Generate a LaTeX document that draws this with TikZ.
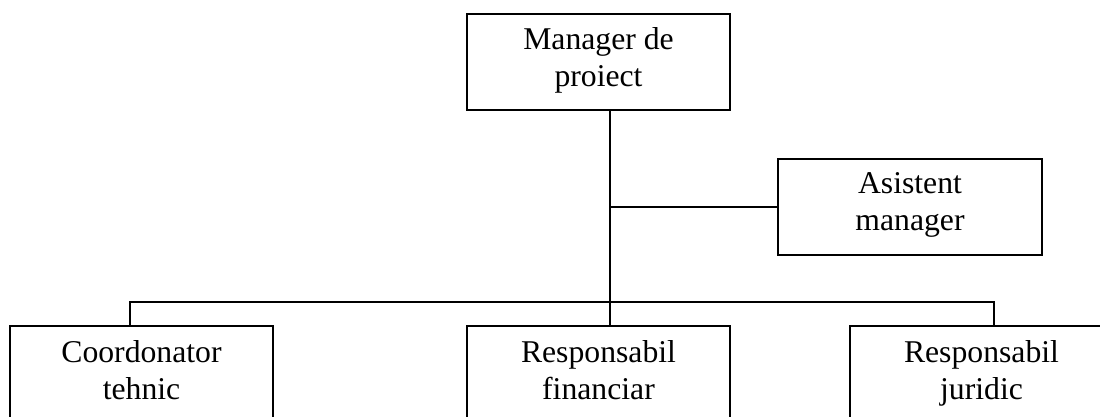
\documentclass[tikz,border=0pt]{standalone}
\usepackage{fontspec}
\setmainfont{Liberation Serif}
\usepackage{tikz}
\usetikzlibrary{positioning}

\begin{document}
\begin{tikzpicture}[x=1pt,y=-1pt,
        post/.style={draw,line width=2pt,minimum width=263pt,minimum height=96pt,
                     inner sep=0pt,align=center,font=\fontsize{31.7}{37}\selectfont,
                     execute at begin node={\rule{0pt}{32pt}},
                     execute at end node={\rule[-9pt]{0pt}{0pt}}},
        link/.style={line width=2pt}]
        \useasboundingbox (0,0) rectangle (1100,417);
        \node[post] (mgr) at (598.5,62) {Manager de\\proiect};
        \node[post,minimum width=264pt] (asist) at (910,206.5) {Asistent\\manager};
        \foreach \n/\x/\txt in {coord/141.5/{Coordonator\\tehnic},
                                fin/598.5/{Responsabil\\financiar},
                                jur/981.5/{Responsabil\\juridic}}{
          \node[post] (\n) at (\x,374) {\txt};
        }
        \coordinate (trunk) at (610,302);
        \coordinate (busl) at (130,302);
        \coordinate (busr) at (994,302);
        \draw[link] (mgr.south -| trunk) -- (fin.north -| trunk);
        \draw[link] (trunk |- asist.west) -- (asist.west);
        \draw[link] (coord.north -| busl) -- (busl) -- (busr) -- (jur.north -| busr);
      \end{tikzpicture}
\end{document}
